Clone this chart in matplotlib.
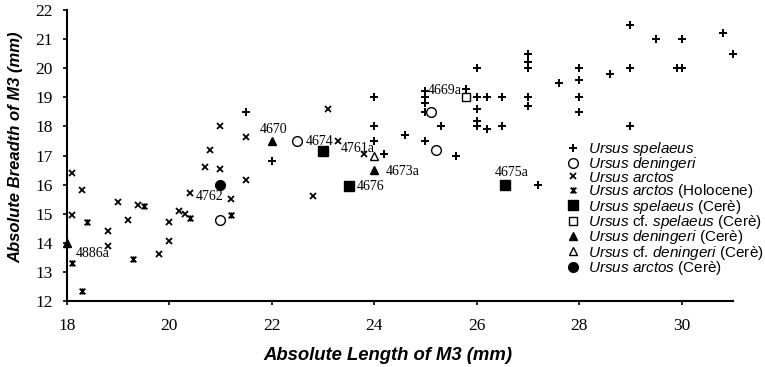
import matplotlib
matplotlib.use("Agg")
import matplotlib.pyplot as plt
from matplotlib.path import Path

plt.rcParams['mathtext.fontset'] = 'custom'
plt.rcParams['mathtext.it'] = 'Liberation Sans:italic'
plt.rcParams['mathtext.rm'] = 'Liberation Sans'
plt.rcParams['mathtext.bf'] = 'Liberation Sans:bold'

# ---------------- data ----------------
spelaeus_x = [21.5, 22.0, 24.0, 24.0, 24.0, 24.6, 25.0, 25.3, 25.6, 25.0, 25.0, 25.0, 25.0,
              24.2, 26.0, 27.0, 27.0, 27.0, 27.6, 28.0, 28.0, 28.0, 28.0, 27.0, 27.0, 26.5,
              26.2, 26.0, 25.8, 26.0, 26.0, 26.0, 26.2, 26.5, 27.2, 29.0, 29.5, 30.0, 30.8,
              31.0, 29.0, 28.6, 29.9, 30.0, 29.0]
spelaeus_y = [18.5, 16.8, 19.0, 18.0, 17.5, 17.7, 17.5, 18.0, 17.0, 18.5, 19.2, 19.0, 18.8,
              17.05, 20.0, 20.5, 20.2, 20.0, 19.5, 20.0, 19.6, 19.0, 18.5, 19.0, 18.7, 19.0,
              19.0, 19.0, 19.3, 18.6, 18.2, 18.0, 17.9, 18.0, 16.0, 21.5, 21.0, 21.0, 21.2,
              20.5, 20.0, 19.8, 20.0, 20.0, 18.0]

deningeri_x = [22.5, 25.1, 25.2, 21.0]
deningeri_y = [17.5, 18.5, 17.2, 14.8]

arctos_x = [18.1, 18.3, 18.1, 18.8, 18.8, 19.0, 19.2, 19.4, 19.8, 20.0, 20.0, 20.2, 20.3,
            20.4, 20.7, 21.0, 20.8, 21.2, 21.5, 21.0, 21.5, 23.1, 23.3, 22.8, 23.8]
arctos_y = [16.4, 15.8, 14.95, 14.4, 13.9, 15.4, 14.8, 15.3, 13.6, 14.7, 14.05, 15.1, 15.0,
            15.7, 16.6, 16.55, 17.2, 15.5, 16.15, 18.0, 17.65, 18.6, 17.5, 15.6, 17.05]

holocene_x = [18.4, 19.3, 19.5, 20.4, 21.2, 18.3, 18.1]
holocene_y = [14.7, 13.45, 15.25, 14.85, 14.95, 12.35, 13.3]

spel_cere_x = [23.0, 23.5, 26.55]
spel_cere_y = [17.15, 15.95, 16.0]
spel_cere_lab = ["4674", "4676", "4675a"]

cfspel_cere_x = [25.8]
cfspel_cere_y = [19.0]
cfspel_cere_lab = ["4669a"]

den_cere_x = [22.0, 24.0, 18.0]
den_cere_y = [17.5, 16.5, 14.0]
den_cere_lab = ["4670", "4673a", "4886a"]

cfden_cere_x = [24.0]
cfden_cere_y = [17.0]
cfden_cere_lab = ["4761a"]

arc_cere_x = [21.0]
arc_cere_y = [16.0]
arc_cere_lab = ["4762"]

legend_labels = [
    r'$\it{Ursus\ spelaeus}$',
    r'$\it{Ursus\ deningeri}$',
    r'$\it{Ursus\ arctos}$',
    r'$\it{Ursus\ arctos}$ (Holocene)',
    r'$\it{Ursus\ spelaeus}$ (Cerè)',
    r'$\it{Ursus}$ cf. $\it{spelaeus}$ (Cerè)',
    r'$\it{Ursus\ deningeri}$ (Cerè)',
    r'$\it{Ursus}$ cf. $\it{deningeri}$ (Cerè)',
    r'$\it{Ursus\ arctos}$ (Cerè)',
]

x_ticks = [18, 20, 22, 24, 26, 28, 30]
y_ticks = [12, 13, 14, 15, 16, 17, 18, 19, 20, 21, 22]

# ---------------- figure ----------------
W, H = 765, 367
fig = plt.figure(figsize=(W / 100, H / 100), dpi=100)
ax = fig.add_axes([66.7 / W, 1 - 301 / H, (733 - 66.7) / W, (301 - 10) / H])

holo = Path([(-1, -1), (1, 1), (-1, 1), (1, -1), (0, -1.1), (0, 1.1)],
            [Path.MOVETO, Path.LINETO] * 3)

k = dict(ls='none', color='black', clip_on=False)
h1, = ax.plot(spelaeus_x, spelaeus_y, marker='+', ms=6, mew=1.4, **k)
h2, = ax.plot(deningeri_x, deningeri_y, marker='o', ms=7, mfc='white', mew=1.0, **k)
h3, = ax.plot(arctos_x, arctos_y, marker='x', ms=4.5, mew=1.3, **k)
h4, = ax.plot(holocene_x, holocene_y, marker=holo, ms=4.5, mew=1.3, **k)
h5, = ax.plot(spel_cere_x, spel_cere_y, marker='s', ms=7, **k)
h6, = ax.plot(cfspel_cere_x, cfspel_cere_y, marker='s', ms=6, mfc='white', mew=1.0, **k)
h7, = ax.plot(den_cere_x, den_cere_y, marker='^', ms=6, **k)
h8, = ax.plot(cfden_cere_x, cfden_cere_y, marker='^', ms=5.5, mfc='white', mew=1.0, **k)
h9, = ax.plot(arc_cere_x, arc_cere_y, marker='o', ms=7, **k)

# specimen labels (offsets in pixels from the mark)
lab_font = dict(family='Liberation Serif', fontsize=10, color='black')
def label(xs, ys, labs, offsets):
    for x, y, t, (dx, dy, ha) in zip(xs, ys, labs, offsets):
        ax.annotate(t, (x, y), xytext=(dx, dy), textcoords='offset pixels',
                    ha=ha, va='center', annotation_clip=False, **lab_font)

label(spel_cere_x, spel_cere_y, spel_cere_lab,
      [(-17, 10, 'left'), (8, 0, 'left'), (7, 12, 'center')])
label(cfspel_cere_x, cfspel_cere_y, cfspel_cere_lab, [(-5, 7, 'right')])
label(den_cere_x, den_cere_y, den_cere_lab,
      [(2, 11, 'center'), (12, -1, 'left'), (9, -11, 'left')])
label(cfden_cere_x, cfden_cere_y, cfden_cere_lab, [(1, 7, 'right')])
label(arc_cere_x, arc_cere_y, arc_cere_lab, [(3, -12, 'right')])

# axes styling
ax.set_xlim(18, 31)
ax.set_ylim(12, 22)
ax.set_xticks(x_ticks)
ax.set_yticks(y_ticks)
for s in ['top', 'right']:
    ax.spines[s].set_visible(False)
for s in ['left', 'bottom']:
    ax.spines[s].set_linewidth(1.5)
ax.tick_params(direction='out', length=3, width=1.2, pad=7, labelsize=12.5)
ax.tick_params(axis='x', pad=9)
for t in ax.get_xticklabels() + ax.get_yticklabels():
    t.set_fontfamily('Liberation Serif')

fig.text(388 / W, 1 - 356 / H, 'Absolute Length of M3 (mm)', ha='center', va='center',
         fontsize=13.3, fontweight='bold', style='italic', family='Liberation Sans')
fig.text(16 / W, 1 - 147 / H, 'Absolute Breadth of M3 (mm)', ha='center', va='center',
         rotation=90, fontsize=12, fontweight='bold', style='italic', family='Liberation Sans')

leg = ax.legend([h1, h2, h3, h4, h5, h6, h7, h8, h9], legend_labels,
                loc='upper left', bbox_to_anchor=(565 / W, 1 - 140 / H),
                bbox_transform=fig.transFigure, frameon=False, borderpad=0,
                borderaxespad=0, handlelength=1.0, handletextpad=0.5,
                labelspacing=-0.17, prop={'family': 'Liberation Sans', 'size': 11},
                numpoints=1)

fig.savefig('out.png', dpi=100)
